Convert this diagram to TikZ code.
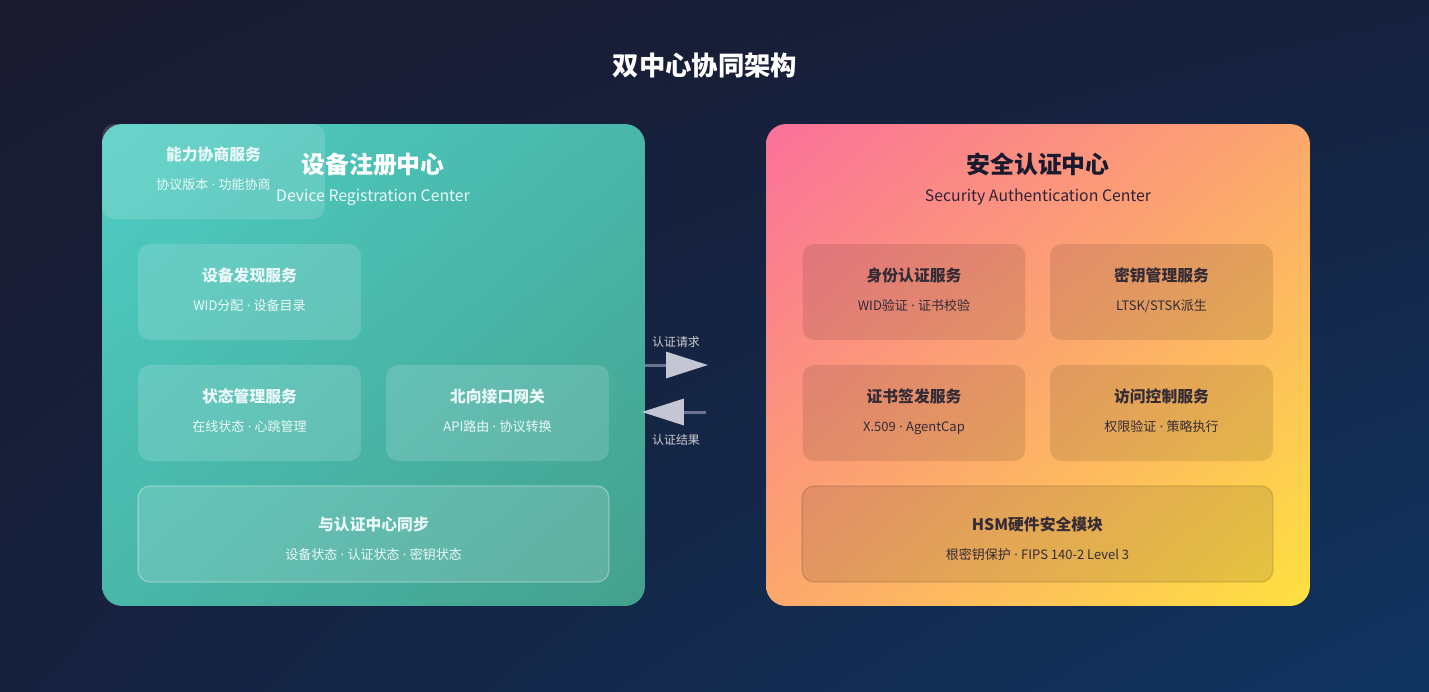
\documentclass[tikz,border=0pt]{standalone}
\usepackage{fontspec}
\setmainfont{Noto Sans CJK SC}
\newfontfamily\dotfont{Noto Sans}
\usetikzlibrary{arrows.meta,positioning,calc,shadings}
\definecolor{night}{HTML}{1A1A2E}
\definecolor{deep}{HTML}{16213E}
\definecolor{ocean}{HTML}{0F3460}
\definecolor{mint}{HTML}{4ECDC4}
\definecolor{sea}{HTML}{44A08D}
\definecolor{seamid}{HTML}{49B7A9}
\definecolor{rose}{HTML}{FA709A}
\definecolor{sun}{HTML}{FEE140}
\definecolor{peach}{HTML}{FCA86D}
\definecolor{haze}{HTML}{6B7391}
\definecolor{silver}{HTML}{C4C7D3}
\tikzset{
  panel/.style={rounded corners=0.4cm,minimum width=10.86cm,minimum height=9.64cm,inner sep=0},
  card/.style={rounded corners=0.24cm,minimum width=4.46cm,minimum height=1.92cm,inner sep=0,align=center,text opacity=1,font=\fontsize{7.4}{16.5}\selectfont},
  lcard/.style={card,fill=white,fill opacity=0.15,text=white!88!mint},
  rcard/.style={card,fill=black,fill opacity=0.1,text=night!88!peach},
  wide/.style={minimum width=9.42cm},
  ptitle/.style={font=\fontsize{13.6}{16}\selectfont\bfseries},
  psub/.style={font=\fontsize{9}{11}\selectfont},
  flow/.style={line width=1.7pt,draw=haze,-{Triangle[length=8.4mm,width=5.2mm,color=silver]}},
  lab/.style={font=\fontsize{6.8}{8}\selectfont,text=white!78!night}
}
\newcommand{\md}{{\dotfont\ ·\ }}
\newcommand{\cardtxt}[2]{{\fontsize{9}{16.5}\selectfont\bfseries #1}\\#2\rule[-3.4pt]{0pt}{1pt}}
\newcommand{\widetxt}[2]{{\fontsize{9}{17}\selectfont\bfseries\rule{0pt}{13pt}#1}\\#2}

\begin{document}
\begin{tikzpicture}[x=0.02cm,y=-0.02cm]
  \useasboundingbox (0,0) rectangle (1429,691);
  \shade[upper left=night,upper right=deep,lower left=deep,lower right=ocean] (0,0) rectangle (1429,691);
  \node[font=\fontsize{15}{18}\selectfont\bfseries,text=white] (title) at (705,66) {双中心协同架构};

  % device registration center
  \node[panel,upper left=mint,upper right=seamid,lower left=seamid,lower right=sea] (reg) at (373.5,365) {};
  \node[ptitle,text=white] (regname) at (373,164) {设备注册中心};
  \node[psub,text=white!88!mint] (regsub) at (373,197) {Device Registration Center};
  \node[lcard,minimum height=1.9cm] (nego) at (213.5,171.5) {\cardtxt{能力协商服务}{协议版本\md 功能协商}};
  \node[lcard] (disc) at (249.5,292) {\cardtxt{设备发现服务}{WID分配\md 设备目录}};
  \node[lcard] (state) at (249.5,413) {\cardtxt{状态管理服务}{在线状态\md 心跳管理}};
  \node[lcard] (gw) at (497.5,413) {\cardtxt{北向接口网关}{API路由\md 协议转换}};
  \node[lcard,wide,draw=white,draw opacity=0.3,line width=0.8pt] (sync) at (373.5,534) {\widetxt{与认证中心同步}{设备状态\md 认证状态\md 密钥状态}};

  % security authentication center
  \node[panel,minimum width=10.88cm,upper left=rose,upper right=peach,lower left=peach,lower right=sun] (auth) at (1038,365) {};
  \node[ptitle,text=night] (authname) at (1038,164) {安全认证中心};
  \node[psub,text=night!90!rose] (authsub) at (1038,197) {Security Authentication Center};
  \node[rcard] (ident) at (914,292) {\cardtxt{身份认证服务}{WID验证\md 证书校验}};
  \node[rcard] (keys) at (1161.5,292) {\cardtxt{密钥管理服务}{LTSK/STSK派生}};
  \node[rcard] (cert) at (914,413) {\cardtxt{证书签发服务}{X.509\md AgentCap}};
  \node[rcard] (acl) at (1161.5,413) {\cardtxt{访问控制服务}{权限验证\md 策略执行}};
  \node[rcard,wide,draw=black,draw opacity=0.12,line width=0.8pt] (hsm) at (1037.5,534) {\widetxt{HSM硬件安全模块}{根密钥保护\md FIPS 140-2 Level 3}};

  % exchange between the centers
  \coordinate (reqend) at (708,365);
  \coordinate (resstart) at (706,412);
  \draw[flow] (reg.east |- reqend) -- (reqend);
  \draw[flow] (resstart) -- ([xshift=-2]reg.east |- resstart);
  \node[lab] (reqlab) at (676,342) {认证请求};
  \node[lab] (reslab) at (676,440) {认证结果};
\end{tikzpicture}
\end{document}
